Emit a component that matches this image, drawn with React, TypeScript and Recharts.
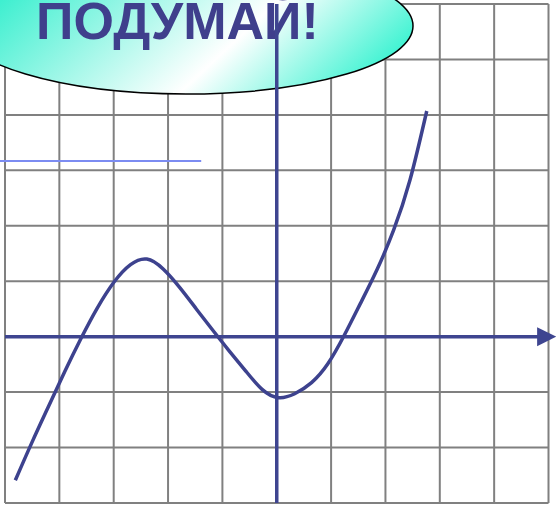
import React from 'react';
import {
  ComposedChart,
  Line,
  XAxis,
  YAxis,
  CartesianGrid,
  ReferenceLine,
  ReferenceDot,
  Customized,
} from 'recharts';

// Curve samples (grid units; origin at the axes crossing)
const curveX = [-4.81, -4.51, -4.2, -3.9, -3.6, -3.3, -2.99, -2.69, -2.39, -2.09, -1.78, -1.48, -1.18, -0.88, -0.57, -0.27, 0.03, 0.33, 0.64, 0.94, 1.24, 1.54, 1.85, 2.15, 2.45, 2.76];
const curveY = [-2.59, -1.92, -1.26, -0.63, -0.03, 0.52, 0.99, 1.3, 1.4, 1.22, 0.88, 0.5, 0.12, -0.25, -0.62, -0.95, -1.1, -1.03, -0.83, -0.49, 0.02, 0.6, 1.22, 1.92, 2.82, 4.07];

const xTicks = [-5, -4, -3, -2, -1, 0, 1, 2, 3, 4, 5];
const yTicks = [-3, -2, -1, 0, 1, 2, 3, 4, 5, 6];

const blueLineY = 3.17;
const blueLineX = [-5.1, -1.39];
const xAxisEnd = 4.84;
const arrowTipX = 5.14;

const title = 'ПОДУМАЙ!';

const data = curveX.map((x, i) => ({ x, y: curveY[i] }));

const AXIS = '#3E4590';
const CURVE = '#3D428E';

const Arrow = (props: any) => {
  const { cx, cy } = props;
  if (cx == null || cy == null) return null;
  return (
    <polygon
      points={`${cx},${cy} ${cx - 19},${cy - 9.5} ${cx - 19},${cy + 9.5}`}
      fill={AXIS}
    />
  );
};

const Bubble = () => (
  <g>
    <defs>
      <linearGradient id="bubbleGrad" gradientUnits="userSpaceOnUse" x1={101} y1={-92} x2={312} y2={135}>
        <stop offset="0" stopColor="#3FEFD0" />
        <stop offset="0.61" stopColor="#FFFFFF" />
        <stop offset="1" stopColor="#3DF3D2" />
      </linearGradient>
    </defs>
    <ellipse cx={186} cy={26} rx={227} ry={68} fill="url(#bubbleGrad)" stroke="#000" strokeWidth={1.5} />
    <text
      x={36}
      y={39}
      fill="#3F3F8C"
      fontFamily="Liberation Sans, Arial, sans-serif"
      fontWeight="bold"
      fontSize={52}
    >
      {title}
    </text>
  </g>
);

export default function App() {
  return (
    <div style={{ position: 'absolute', left: 0, top: 0, width: 556, height: 506, background: '#fff' }}>
      <ComposedChart
        width={556}
        height={506}
        data={data}
        margin={{ top: 4, left: 5, right: 7.5, bottom: 3 }}
      >
        <XAxis type="number" dataKey="x" domain={[-5, 5]} ticks={xTicks} hide allowDataOverflow />
        <YAxis type="number" domain={[-3, 6]} ticks={yTicks} hide allowDataOverflow />
        <CartesianGrid stroke="#808080" strokeWidth={2} />
        <ReferenceLine
          segment={[{ x: blueLineX[0], y: blueLineY }, { x: blueLineX[1], y: blueLineY }]}
          stroke="#7C8CF2"
          strokeWidth={2}
          ifOverflow="visible"
        />
        <ReferenceLine
          segment={[{ x: -5, y: 0 }, { x: xAxisEnd, y: 0 }]}
          stroke={AXIS}
          strokeWidth={3.5}
          ifOverflow="visible"
        />
        <ReferenceDot x={arrowTipX} y={0} ifOverflow="visible" shape={Arrow} />
        <ReferenceLine x={0} stroke={AXIS} strokeWidth={3.5} />
        <Line
          type="natural"
          dataKey="y"
          stroke={CURVE}
          strokeWidth={3.5}
          dot={false}
          isAnimationActive={false}
        />
        <Customized component={Bubble} />
      </ComposedChart>
    </div>
  );
}
